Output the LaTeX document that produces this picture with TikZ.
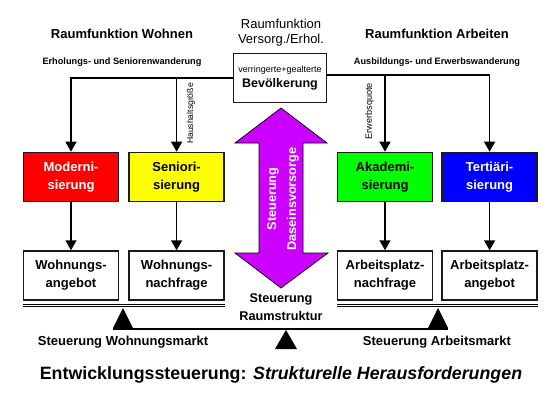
\documentclass[tikz,border=0pt]{standalone}
\usepackage{fontspec}
\setmainfont{Liberation Sans}
\usetikzlibrary{arrows.meta,positioning,calc}
\definecolor{hot}{HTML}{FF0000}
\definecolor{sun}{HTML}{FFFF00}
\definecolor{leaf}{HTML}{00FF00}
\definecolor{deep}{HTML}{0000FF}
\definecolor{vio}{HTML}{CC00FF}
\definecolor{edge}{HTML}{1A1A1A}
\tikzset{stagebox/.style={draw=edge,line width=1.6pt,align=center,
 font=\fontsize{13}{18}\selectfont\bfseries,inner sep=0pt,minimum width=95pt,minimum height=49pt},
 flowarrow/.style={-{Triangle[length=10pt,width=11pt]},draw=black,line width=1.4pt},
 headline/.style={font=\fontsize{13}{16}\selectfont\bfseries},
 sideline/.style={font=\fontsize{9.2}{11}\selectfont\bfseries},
 ratelabel/.style={rotate=90,inner sep=0pt,font=\fontsize{8.6}{10}\selectfont},
 beam/.style={line width=2.6pt,draw=black}}
\begin{document}
\begin{tikzpicture}[x=1pt,y=-1pt,node distance=48pt and 9pt]
\useasboundingbox (0,0) rectangle (560,400);
% headings
\node[headline] (wohnen) at (122,34) {Raumfunktion Wohnen};
\node[sideline] (wohnmig) at (122,62.5) {Erholungs- und Seniorenwanderung};
\node[font=\fontsize{13}{15}\selectfont,align=center,inner sep=0pt] (versorg) at (281,33) {Raumfunktion\\Versorg./Erhol.};
\node[headline] (arbeit) at (437,34) {Raumfunktion Arbeiten};
\node[sideline] (arbmig) at (437,62.5) {Ausbildungs- und Erwerbswanderung};
% population
\node[stagebox,minimum width=93pt,font=\fontsize{12.5}{15}\selectfont\bfseries] (bev) at (280,78)
 {{\fontsize{9}{10}\selectfont\mdseries verringerte+gealterte}\\Bevölkerung};
% stages
\node[stagebox,fill=hot,text=white] (mod) at (71,177) {Moderni-\\sierung};
\node[stagebox,fill=sun,right=of mod] (sen) {Seniori-\\sierung};
\node[stagebox,fill=leaf] (aka) at (385,177) {Akademi-\\sierung};
\node[stagebox,fill=deep,text=white,right=8pt of aka] (ter) {Tertiäri-\\sierung};
% markets
\node[stagebox,below=of mod] (wang) {Wohnungs-\\angebot};
\node[stagebox,below=of sen] (wnach) {Wohnungs-\\nachfrage};
\node[stagebox,below=of aka] (anach) {Arbeitsplatz-\\nachfrage};
\node[stagebox,below=of ter] (aang) {Arbeitsplatz-\\angebot};
% flows
\draw[flowarrow] (bev.west) -| (mod.north);
\draw[flowarrow] (bev.west -| sen.north) -- (sen.north);
\draw[flowarrow] ([yshift=3pt]bev.east) -| (ter.north);
\draw[flowarrow] ([yshift=3pt]bev.east -| aka.north) -- (aka.north);
\foreach \a/\b in {mod/wang,sen/wnach,aka/anach,ter/aang}
 \draw[flowarrow] (\a) -- (\b);
\node[ratelabel,anchor=north east] (hhg) at ([xshift=10pt,yshift=-5pt]bev.west -| sen.north) {Haushaltsgröße};
\node[ratelabel,anchor=south east,font=\fontsize{9.1}{10}\selectfont] (quote) at ([xshift=-11pt,yshift=-5pt]bev.east -| aka.north) {Erwerbsquote};
% Daseinsvorsorge
\filldraw[fill=vio,draw=black,line width=0.7pt] (281,108) -- (327,143) -- (303,143) -- (303,253) -- (328,253)
 -- (281,288) -- (235,253) -- (259,253) -- (259,143) -- (235,143) -- cycle;
\node[rotate=90,text=white,align=center,inner sep=0pt,font=\fontsize{12.7}{20}\selectfont\bfseries] (dasein) at (283,199) {Steuerung\\Daseinsvorsorge};
% balance
\draw[line width=1.2pt,double,double distance=1.3pt] ([yshift=-4.5pt]wang.south west) -- ([yshift=-4.5pt]wnach.south east);
\draw[line width=1.2pt,double,double distance=1.3pt] ([yshift=-4.5pt]anach.south west) -- ([yshift=-4.5pt]aang.south east);
\coordinate (lpiv) at (123,308);
\coordinate (rpiv) at (438,308);
\coordinate (mpiv) at (286,330);
\coordinate (beamw) at (113,329);
\coordinate (beame) at (448,329);
\draw[beam] (beamw) -- (beame);
\fill (lpiv) -- ++(10,20) -- ++(-20,0) -- cycle;
\fill (rpiv) -- ++(10,20) -- ++(-20,0) -- cycle;
\fill (mpiv) -- ++(11,19) -- ++(-22,0) -- cycle;
\node[align=center,font=\fontsize{12.7}{18.5}\selectfont\bfseries,inner sep=0pt] (raum) at (281,307) {Steuerung\\Raumstruktur};
\node[headline] (wmarkt) at (123,342.5) {Steuerung Wohnungsmarkt};
\node[headline] (amarkt) at (437,342.5) {Steuerung Arbeitsmarkt};
% title
\node[font=\fontsize{17.8}{20}\selectfont\bfseries] (title) at (281,375) {Entwicklungssteuerung: \textit{Strukturelle Herausforderungen}};
\end{tikzpicture}
\end{document}
